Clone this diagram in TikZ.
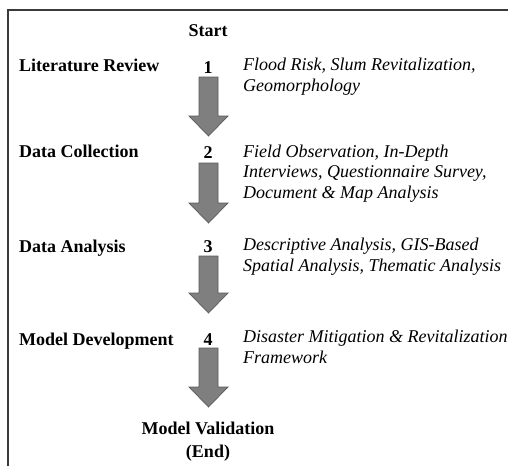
\documentclass[tikz,border=0pt]{standalone}
\usepackage{fontspec}
\setmainfont{Liberation Serif}
\usetikzlibrary{calc}
\definecolor{framecol}{HTML}{3A3A3A}
\definecolor{arrowfill}{HTML}{7F7F7F}
\definecolor{arrowedge}{HTML}{5A5A5A}
\tikzset{
  x=1pt, y=-1pt,
  stage/.style={font=\fontsize{18}{21}\selectfont\bfseries, inner sep=0pt, anchor=base west},
  stepnum/.style={font=\fontsize{18}{21}\selectfont\bfseries, inner sep=0pt, anchor=base},
  % multi-line notes are placed by the baseline of their last line
  detail/.style={font=\fontsize{18}{20.5}\selectfont\itshape, inner sep=0pt, anchor=base west, align=left},
  endpoint/.style={font=\fontsize{18}{21}\selectfont\bfseries, inner sep=0pt, anchor=base},
  blockarrow/.style={draw=arrowedge, fill=arrowfill, line width=0.7pt, line join=miter,
    to path={let \p1=(\tikztostart), \p2=(\tikztotarget) in
      (\x1-9.5pt,\y1) -- (\x1+9.5pt,\y1) -- (\x1+9.5pt,\y2+20pt) -- (\x1+19.5pt,\y2+20pt)
      -- (\x2,\y2) -- (\x1-19.5pt,\y2+20pt) -- (\x1-9.5pt,\y2+20pt) -- cycle}},
}
\begin{document}
\begin{tikzpicture}
\useasboundingbox (0,0) rectangle (508,466);
\fill[white] (0,0) rectangle (508,466);

% open frame: top and left edges only
\draw[framecol, line width=1.8pt] (8,466) -- (8,10) -- (508,10);

% start and end
\node[endpoint] (start) at (208,36) {Start};
\node[endpoint] (valid) at (208,434) {Model Validation};
\node[endpoint] (fin) at (208,457) {(End)};

% stages
\node[stage] (s1) at (19,71) {Literature Review};
\node[stage] (s2) at (19,157) {Data Collection};
\node[stage] (s3) at (19,252) {Data Analysis};
\node[stage] (s4) at (19,345) {Model Development};

\node[stepnum] (n1) at (208,73) {1};
\node[stepnum] (n2) at (208,158) {2};
\node[stepnum] (n3) at (208,252) {3};
\node[stepnum] (n4) at (208,345) {4};

\node[detail] (d1) at (243,91) {Flood Risk, Slum Revitalization,\\Geomorphology};
\node[detail] (d2) at (243,198) {Field Observation, In-Depth\\Interviews, Questionnaire Survey,\\Document \& Map Analysis};
\node[detail] (d3) at (243,271) {Descriptive Analysis, GIS-Based\\Spatial Analysis, Thematic Analysis};
\node[detail] (d4) at (243,363) {Disaster Mitigation \& Revitalization\\Framework};

% arrow ends
\coordinate (a1) at (208.5,77);  \coordinate (b1) at (208.5,136);
\coordinate (a2) at (208.5,163); \coordinate (b2) at (208.5,223);
\coordinate (a3) at (208.5,256); \coordinate (b3) at (208.5,313);
\coordinate (a4) at (208.5,348); \coordinate (b4) at (208.5,407);

\draw[blockarrow] (a1) to (b1);
\draw[blockarrow] (a2) to (b2);
\draw[blockarrow] (a3) to (b3);
\draw[blockarrow] (a4) to (b4);
\end{tikzpicture}
\end{document}
